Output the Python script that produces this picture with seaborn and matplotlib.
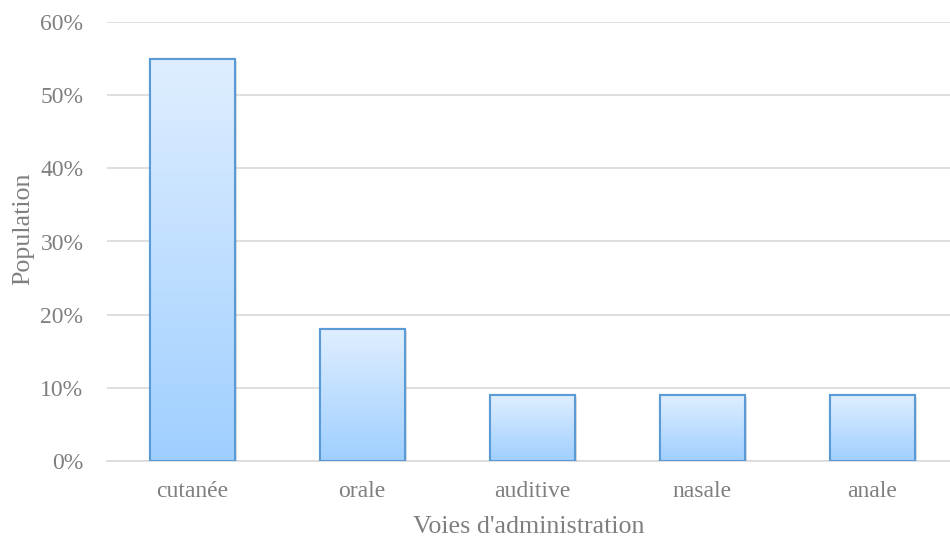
import numpy as np
import pandas as pd
import matplotlib
matplotlib.use("Agg")
import matplotlib.pyplot as plt
import matplotlib.patheffects as pe
from matplotlib.colors import LinearSegmentedColormap
from matplotlib.ticker import PercentFormatter
import seaborn as sns

categories = ["cutanée", "orale", "auditive", "nasale", "anale"]
population = [0.55, 0.18, 0.09, 0.09, 0.09]
y_ticks = [0.0, 0.1, 0.2, 0.3, 0.4, 0.5, 0.6]
x_title = "Voies d'administration"
y_title = "Population"

sns.set_theme(style="white")
plt.rcParams["font.family"] = "serif"
plt.rcParams["font.serif"] = ["Liberation Serif", "Times New Roman", "DejaVu Serif"]

text_color = "#7f7f7f"
grid_color = "#d9d9d9"
edge_color = "#5b9bd5"

df = pd.DataFrame({"voie": categories, "pop": population})

fig = plt.figure(figsize=(9.5, 5.39), dpi=100)
ax = fig.add_axes([107 / 950, 1 - 461 / 539, (950 - 107) / 950, (461 - 22) / 539])

sns.barplot(data=df, x="voie", y="pop", ax=ax, width=0.5,
            color="white", edgecolor=edge_color, linewidth=1.5, zorder=3)

# vertical gradient fill inside each bar
grad = LinearSegmentedColormap.from_list("bar_grad", ["#9fcfff", "#dfeeff"])
gradient = np.linspace(0, 1, 256).reshape(-1, 1)
for patch in list(ax.patches):
    x0, y0 = patch.get_x(), patch.get_y()
    w, h = patch.get_width(), patch.get_height()
    patch.set_path_effects([pe.SimplePatchShadow(offset=(1.5, -1.5), alpha=0.25,
                                                 shadow_rgbFace="#808080"),
                            pe.Normal()])
    im = ax.imshow(gradient, cmap=grad, origin="lower", aspect="auto",
                   extent=(x0, x0 + w, y0, y0 + h), zorder=3.5,
                   interpolation="bilinear")
    im.set_clip_path(patch)
    edge = plt.Rectangle((x0, y0), w, h, fill=False, edgecolor=edge_color,
                         linewidth=1.5, zorder=4)
    ax.add_patch(edge)

ax.set_xlim(-0.5, -0.5 + (950 - 107) / 170)
ax.set_ylim(0, 0.6)
ax.set_yticks(y_ticks)
ax.yaxis.set_major_formatter(PercentFormatter(1.0, decimals=0))
ax.grid(axis="y", color=grid_color, linewidth=1.2, zorder=0)
ax.grid(axis="x", visible=False)
for side in ["top", "right", "left"]:
    ax.spines[side].set_visible(False)
ax.spines["bottom"].set_color(grid_color)
ax.spines["bottom"].set_linewidth(1.2)

ax.tick_params(axis="both", length=0, labelsize=17, colors=text_color)
ax.tick_params(axis="y", pad=17)
ax.tick_params(axis="x", pad=14.5)
ax.set_xlabel(x_title, fontsize=18.7, color=text_color, labelpad=10)
ax.set_ylabel(y_title, fontsize=18.7, color=text_color, labelpad=4.5)
ax.yaxis.label.set_y(0.528)

fig.savefig("out.png", dpi=100)
